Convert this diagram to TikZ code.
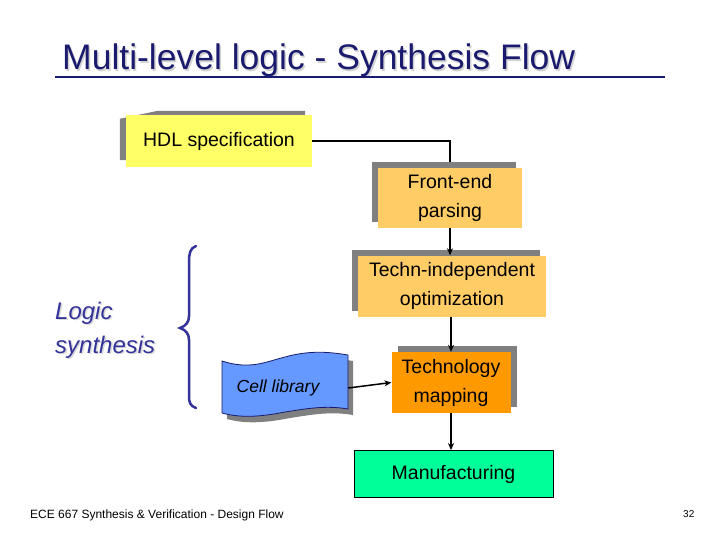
\documentclass[tikz,border=0pt]{standalone}
\usepackage{fontspec}
\setmainfont{Liberation Sans}
\usetikzlibrary{positioning,shadows,backgrounds,arrows.meta}

\definecolor{navy}{HTML}{1A1A6E}
\definecolor{bracecol}{HTML}{333399}
\definecolor{shadowgray}{HTML}{808080}
\definecolor{hdlyellow}{HTML}{FFFF66}
\definecolor{paleorange}{HTML}{FFCC66}
\definecolor{deeporange}{HTML}{FF9900}
\definecolor{mint}{HTML}{00FF99}
\definecolor{libblue}{HTML}{6699FF}

\begin{document}
\begin{tikzpicture}[
    x=1pt, y=-1pt,
    every node/.style={inner sep=0pt},
    flowbox/.style={rectangle,align=center,font=\fontsize{19.5}{29}\selectfont},
    shadowUL/.style={drop shadow={shadow xshift=-6pt,shadow yshift=6pt,fill=shadowgray,opacity=1}},
    shadowUR/.style={drop shadow={shadow xshift=6pt,shadow yshift=6pt,fill=shadowgray,opacity=1}},
    flow/.style={-{Stealth[length=7pt,width=6pt]},line width=1.5pt}
]
\useasboundingbox (0,0) rectangle (720,540);

% title
\node[anchor=base west,font=\fontsize{35.5}{40}\selectfont,text=gray!35] at (63.5,71.5) {Multi-level logic - Synthesis Flow};
\node (title) [anchor=base west,font=\fontsize{35.5}{40}\selectfont,text=navy] at (62,70) {Multi-level logic - Synthesis Flow};
\draw[navy,line width=2.5pt] (55,77) -- (665,77);

% flow boxes
\node (hdl) [flowbox,fill=hdlyellow,minimum width=186pt,minimum height=52pt] at (219,141) {HDL specification};
\node (front) [flowbox,shadowUL,fill=paleorange,minimum width=144pt,minimum height=60pt] at (450,198) {Front-end\\parsing};
\node (techn) [flowbox,shadowUL,fill=paleorange,minimum width=188pt,minimum height=61pt] at (452,286) {Techn-independent\\optimization};
\node (techmap) [flowbox,shadowUR,fill=deeporange,minimum width=119pt,minimum height=61pt] at (451,382.5) {Technology\\mapping};
\node (manuf) [flowbox,fill=mint,draw=black,line width=0.8pt,minimum width=199pt,minimum height=47pt] at (453.5,474) {Manufacturing};

% cell library tape
\fill[shadowgray] (227,367) .. controls (255,376) and (270,368) .. (290,363) .. controls (315,356) and (335,358) .. (353,361)
    -- (353,415) .. controls (330,411) and (310,415) .. (290,418) .. controls (265,423) and (245,424) .. (227,419) -- cycle;
\filldraw[fill=libblue,draw=navy,line width=0.8pt] (222,361) .. controls (250,370) and (265,362) .. (285,357) .. controls (310,350) and (330,352) .. (348,355)
    -- (348,409) .. controls (325,405) and (305,409) .. (285,412) .. controls (260,417) and (240,418) .. (222,413) -- cycle;
\node (cell) [font=\fontsize{17.5}{20}\selectfont\itshape,minimum width=140pt,minimum height=50pt] at (278,388) {Cell library};

% logic synthesis brace
\node[anchor=west,align=left,font=\fontsize{24}{34}\selectfont\itshape,text=gray!30] at (56.5,331.5) {Logic\\synthesis};
\node (logic) [anchor=west,align=left,font=\fontsize{24}{34}\selectfont\itshape,text=bracecol] at (55,330) {Logic\\synthesis};
\draw[bracecol,line width=2.5pt,line cap=round] (196,246) .. controls (190,248) and (189,254) .. (189,262) -- (189,316)
    .. controls (189,322) and (186,326) .. (180,328) .. controls (186,330) and (189,334) .. (189,340) -- (189,396)
    .. controls (189,402) and (190,406) .. (196,408);

% connectors
\begin{pgfonlayer}{background}
\fill[shadowgray] ([xshift=-6pt,yshift=-4pt]hdl.north west) -- ([xshift=32pt,yshift=4pt]hdl.north west)
    -- ([xshift=-7pt,yshift=4pt]hdl.north east) -- ([xshift=-7pt,yshift=7pt]hdl.south east)
    -- ([xshift=-6pt,yshift=7pt]hdl.south west) -- cycle;
\draw[line width=1.5pt] (hdl.east) -| (front.north);
\end{pgfonlayer}
\draw[flow] (front.south) -- (front.south |- techn.north);
\draw[flow] (techn.south -| techmap.north) -- (techmap.north);
\draw[flow] (cell.east) -- (techmap.west);
\draw[flow] (techmap.south) -- (techmap.south |- manuf.north);

% footer
\node (footer) [anchor=base west,font=\fontsize{12}{14}\selectfont] at (30,518) {ECE 667 Synthesis \& Verification - Design Flow};
\node (page) [anchor=base west,font=\fontsize{10}{12}\selectfont] at (683,517) {32};
\end{tikzpicture}
\end{document}
